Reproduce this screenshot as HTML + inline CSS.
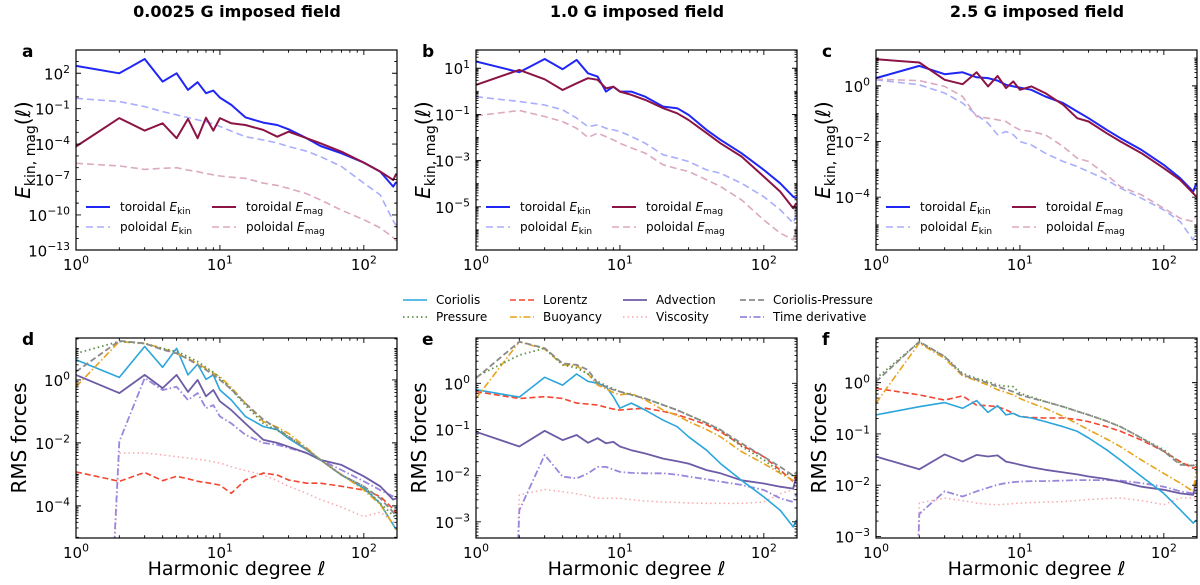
<!DOCTYPE html>
<html><head><meta charset="utf-8"><style>
html,body{margin:0;background:#fff;overflow:hidden;width:1200px;height:585px}
svg{display:block;font-family:"DejaVu Sans","Liberation Sans",sans-serif}
</style></head><body>
<svg id="fig" width="1200" height="585" viewBox="0 0 1200 585" xmlns="http://www.w3.org/2000/svg">
<text x="237" y="17" text-anchor="middle" font-weight="bold" font-size="16">0.0025 G imposed field</text>
<text x="637" y="17" text-anchor="middle" font-weight="bold" font-size="16">1.0 G imposed field</text>
<text x="1037" y="17" text-anchor="middle" font-weight="bold" font-size="16">2.5 G imposed field</text>
</svg>
<script>
// Harmonic degrees shared by all series
const degrees = [1,2,3,4,5,6,7,8,9,10,12,15,20,25,30,40,50,70,100,130,160,168];
// log10 values, panel a
const aTorKin = [2.62,2.0,3.21,1.29,2.0,0.59,1.24,0.31,0.53,-0.06,-0.68,-1.73,-2.18,-2.38,-2.75,-3.5,-4.16,-4.78,-5.57,-6.33,-7.6,-7.2];
const aPolKin = [-0.12,-0.4,-0.82,-1.25,-1.53,-1.75,-1.95,-2.1,-2.3,-2.5,-2.9,-3.37,-3.65,-3.9,-4.2,-4.6,-5.06,-5.9,-7.3,-8.3,-10.5,-10.9];
const aTorMag = [-4.2,-1.8,-2.86,-2.24,-3.5,-1.87,-3.5,-1.76,-2.86,-1.8,-2.24,-2.38,-2.8,-3.37,-2.95,-3.5,-3.93,-4.64,-5.57,-6.33,-7.04,-6.5];
const aPolMag = [-5.63,-5.85,-6.14,-6.05,-6.0,-6.2,-6.33,-6.5,-6.6,-6.7,-6.8,-6.9,-7.3,-7.5,-7.75,-8.2,-8.73,-9.6,-10.4,-11.1,-11.9,-12.2];
// panel b
const bTorKin = [1.29,0.83,1.4,0.96,1.36,0.78,0.64,-0.01,0.2,-0.01,-0.01,-0.23,-0.66,-0.73,-1.02,-1.67,-2.1,-2.68,-3.4,-3.98,-4.56,-4.63];
const bTorMag = [0.28,0.93,0.52,0.06,0.35,0.57,0.5,0.13,0.2,-0.01,-0.15,-0.37,-0.73,-0.95,-1.24,-1.81,-2.25,-2.82,-3.69,-4.34,-5.06,-4.84];
const bPolKin = [-0.23,-0.44,-0.59,-0.8,-1.16,-1.53,-1.45,-1.6,-1.67,-1.74,-1.95,-2.25,-2.75,-2.9,-3.04,-3.4,-3.55,-3.98,-4.56,-5.13,-5.7,-5.35];
const bPolMag = [-1.06,-0.83,-1.09,-1.31,-1.6,-2.0,-1.81,-1.96,-2.1,-2.25,-2.45,-2.68,-3.18,-3.35,-3.47,-3.83,-4.12,-4.7,-5.57,-6.14,-6.43,-5.85];
// panel c
const cTorKin = [0.28,0.72,0.42,0.49,0.31,0.28,0.19,0.04,-0.02,-0.06,-0.14,-0.38,-0.62,-0.92,-1.16,-1.58,-1.88,-2.3,-2.84,-3.32,-3.8,-3.5];
const cTorMag = [0.96,0.84,0.22,0.06,0.49,-0.02,0.36,-0.08,0.16,-0.14,-0.02,-0.26,-0.68,-1.16,-1.28,-1.7,-2.0,-2.42,-2.96,-3.38,-3.86,-3.98];
const cPolKin = [0.22,0.04,-0.26,-0.62,-1.04,-1.34,-1.76,-1.64,-1.76,-2.0,-2.12,-2.42,-2.72,-2.9,-3.08,-3.38,-3.68,-4.04,-4.46,-4.88,-5.54,-5.18];
const cPolMag = [0.24,0.19,-0.02,-0.38,-1.1,-1.16,-1.22,-1.28,-1.46,-1.58,-1.64,-1.76,-2.18,-2.6,-2.72,-3.2,-3.62,-3.92,-4.4,-4.76,-4.88,-4.64];
// panel d forces
const dCor = [0.64,0.08,1.06,0.4,1.0,0.16,0.5,0.02,0.16,-0.32,-0.64,-1.16,-1.48,-1.58,-1.86,-2.22,-2.54,-3.02,-3.44,-3.92,-4.6,-4.76];
const dPres = [0.84,1.22,1.16,1.0,0.9,0.74,0.58,0.4,0.24,0.06,-0.3,-0.8,-1.38,-1.6,-1.8,-2.2,-2.54,-3.02,-3.38,-3.92,-4.3,-4.44];
const dLor = [-2.92,-3.22,-2.94,-3.2,-3.06,-3.14,-3.22,-3.26,-3.3,-3.34,-3.6,-3.18,-2.96,-3.02,-3.18,-3.28,-3.28,-3.38,-3.5,-3.7,-4.1,-4.24];
const dBuo = [-0.22,1.22,1.16,1.0,0.84,0.68,0.52,0.36,0.22,0.1,-0.24,-0.74,-1.32,-1.5,-1.7,-2.16,-2.54,-3.0,-3.5,-3.96,-4.6,-4.76];
const dAdv = [0.16,-0.42,0.16,-0.26,0.16,-0.38,0,-0.52,-0.32,-0.68,-0.96,-1.38,-1.9,-2.0,-2.12,-2.32,-2.54,-2.7,-3.06,-3.38,-3.8,-3.76];
const dVisc = [-30,-2.32,-2.32,-2.38,-2.44,-2.48,-2.52,-2.56,-2.6,-2.64,-2.76,-2.88,-3.02,-3.2,-3.38,-3.6,-3.8,-4.04,-4.34,-4.2,-4.5,-4.6];
const dCP = [0.26,1.24,1.16,0.96,0.84,0.66,0.48,0.32,0.16,0,-0.3,-0.74,-1.26,-1.54,-1.8,-2.2,-2.54,-3.02,-3.38,-3.76,-4.2,-4.34];
const dTD = [-30,-1.96,0.06,-0.32,-0.22,-0.64,-0.42,-0.9,-0.8,-1.16,-1.38,-1.74,-2.0,-2.06,-2.16,-2.32,-2.54,-2.86,-3.22,-3.5,-3.7,-3.76];
// panel e
const eCor = [-0.14,-0.3,0.13,-0.04,0.2,0.04,0,-0.07,-0.29,-0.54,-0.43,-0.58,-0.8,-0.94,-1.16,-1.45,-1.74,-2.1,-2.46,-2.75,-3.11,-2.96];
const ePres = [0.14,0.61,0.76,0.4,0.33,0.2,0.04,-0.05,-0.12,-0.18,-0.25,-0.33,-0.47,-0.58,-0.69,-0.86,-1.01,-1.37,-1.66,-1.92,-2.0,-1.95];
const eLor = [-0.18,-0.33,-0.29,-0.33,-0.43,-0.45,-0.47,-0.52,-0.56,-0.58,-0.56,-0.54,-0.61,-0.68,-0.76,-0.9,-1.05,-1.34,-1.59,-1.88,-2.13,-1.99];
const eBuo = [-0.33,0.9,0.74,0.4,0.38,0.2,-0.04,-0.12,-0.2,-0.25,-0.22,-0.36,-0.58,-0.7,-0.83,-1.0,-1.16,-1.48,-1.74,-1.95,-2.1,-1.92];
const eAdv = [-1.05,-1.37,-1.03,-1.23,-1.12,-1.29,-1.19,-1.3,-1.27,-1.37,-1.45,-1.52,-1.63,-1.69,-1.74,-1.88,-1.95,-2.1,-2.17,-2.24,-2.28,-2.02];
const eVisc = [-30,-2.42,-2.3,-2.35,-2.39,-2.44,-2.49,-2.49,-2.49,-2.49,-2.52,-2.55,-2.57,-2.58,-2.59,-2.6,-2.6,-2.6,-2.57,-2.39,-2.3,-2.24];
const eCP = [0.11,0.9,0.76,0.43,0.4,0.29,0,-0.08,-0.14,-0.18,-0.25,-0.33,-0.47,-0.58,-0.69,-0.86,-1.01,-1.3,-1.59,-1.81,-2.0,-1.92];
const eTD = [-30,-2.75,-1.55,-2.02,-2.06,-1.95,-1.81,-1.81,-1.87,-1.92,-1.94,-1.95,-1.95,-1.98,-2.02,-2.08,-2.13,-2.2,-2.31,-2.49,-2.57,-2.39];
// panel f
const fCor = [-0.63,-0.47,-0.39,-0.5,-0.35,-0.58,-0.45,-0.63,-0.6,-0.66,-0.69,-0.76,-0.86,-0.95,-1.08,-1.31,-1.51,-1.83,-2.16,-2.48,-2.74,-2.68];
const fPres = [0.08,0.79,0.51,0.18,0.08,0.02,-0.05,-0.07,-0.08,-0.21,-0.28,-0.37,-0.47,-0.56,-0.63,-0.75,-0.86,-1.08,-1.31,-1.57,-1.62,-1.6];
const fLor = [-0.11,-0.24,-0.34,-0.26,-0.44,-0.45,-0.47,-0.53,-0.6,-0.66,-0.68,-0.69,-0.69,-0.72,-0.76,-0.86,-0.95,-1.12,-1.34,-1.54,-1.67,-1.64];
const fBuo = [-0.4,0.77,0.47,0.13,0.04,-0.05,-0.14,-0.19,-0.24,-0.31,-0.4,-0.5,-0.66,-0.8,-0.92,-1.1,-1.25,-1.51,-1.77,-1.96,-2.12,-1.73];
const fAdv = [-1.44,-1.69,-1.4,-1.54,-1.41,-1.44,-1.42,-1.54,-1.57,-1.6,-1.65,-1.7,-1.75,-1.79,-1.83,-1.88,-1.93,-2.03,-2.09,-2.16,-2.19,-1.9];
const fVisc = [-30,-2.35,-2.25,-2.3,-2.35,-2.37,-2.38,-2.37,-2.36,-2.35,-2.34,-2.33,-2.32,-2.3,-2.28,-2.26,-2.25,-2.3,-2.38,-2.25,-2.25,-2.25];
const fCP = [0.02,0.8,0.51,0.15,0.06,-0.01,-0.08,-0.13,-0.18,-0.24,-0.3,-0.37,-0.47,-0.56,-0.63,-0.75,-0.86,-1.08,-1.34,-1.6,-1.62,-1.57];
const fTD = [-30,-2.56,-2.12,-2.22,-2.12,-2.05,-1.99,-1.96,-1.94,-1.93,-1.92,-1.92,-1.91,-1.9,-1.9,-1.9,-1.91,-1.96,-2.03,-2.12,-2.16,-2.09];
// tick exponents
const xTickExps = [0,1,2];
const aYTicks = [2,-1,-4,-7,-10,-13];
const bYTicks = [1,-1,-3,-5];
const cYTicks = [0,-2,-4];
const dYTicks = [0,-2,-4];
const eYTicks = [0,-1,-2,-3];
const fYTicks = [0,-1,-2,-3];

const NS='http://www.w3.org/2000/svg';
const svg=document.getElementById('fig');
function mk(tag,attrs,parent){const e=document.createElementNS(NS,tag);for(const k in attrs)e.setAttribute(k,attrs[k]);(parent||svg).appendChild(e);return e;}

const S={
 torKin:{c:'#1f26f5',d:'',w:2},polKin:{c:'#a9aefc',d:'7,4',w:1.6},
 torMag:{c:'#8c1445',d:'',w:2},polMag:{c:'#dba9c0',d:'7,4',w:1.6},
 cor:{c:'#2ba5dc',d:'',w:1.6},pres:{c:'#5f8f45',d:'1.5,3',w:1.8},
 lor:{c:'#f4452f',d:'6,3',w:1.6},buo:{c:'#e8a31c',d:'7,2.5,1.5,2.5',w:1.6},
 adv:{c:'#6e5ba6',d:'',w:1.8},visc:{c:'#f8a9ad',d:'1.5,3',w:1.5},
 cp:{c:'#8a8a8a',d:'6,3',w:1.8},td:{c:'#9a86dc',d:'7,2.5,1.5,2.5',w:1.8}
};

const panels=[
 {id:'a',x0:76,y0:50,x1:397,y1:250,ylo:-12.97,yhi:3.97,ticks:aYTicks,top:true,
  series:[['polKin',aPolKin],['polMag',aPolMag],['torKin',aTorKin],['torMag',aTorMag]]},
 {id:'b',x0:476,y0:50,x1:797,y1:250,ylo:-6.87,yhi:1.79,ticks:bYTicks,top:true,
  series:[['polKin',bPolKin],['polMag',bPolMag],['torKin',bTorKin],['torMag',bTorMag]]},
 {id:'c',x0:876,y0:50,x1:1197,y1:250,ylo:-5.9,yhi:1.29,ticks:cYTicks,top:true,
  series:[['polKin',cPolKin],['polMag',cPolMag],['torKin',cTorKin],['torMag',cTorMag]]},
 {id:'d',x0:76,y0:338,x1:397,y1:538,ylo:-5.02,yhi:1.33,ticks:dYTicks,
  series:[['visc',dVisc],['lor',dLor],['td',dTD],['adv',dAdv],['cor',dCor],['buo',dBuo],['pres',dPres],['cp',dCP]]},
 {id:'e',x0:476,y0:338,x1:797,y1:538,ylo:-3.35,yhi:0.98,ticks:eYTicks,
  series:[['visc',eVisc],['lor',eLor],['td',eTD],['adv',eAdv],['cor',eCor],['buo',eBuo],['pres',ePres],['cp',eCP]]},
 {id:'f',x0:876,y0:338,x1:1197,y1:538,ylo:-3.03,yhi:0.87,ticks:fYTicks,
  series:[['visc',fVisc],['lor',fLor],['td',fTD],['adv',fAdv],['cor',fCor],['buo',fBuo],['pres',fPres],['cp',fCP]]}
];
const XMAX=Math.log10(170);

function pow10(g,x,y,e,anchor,fs,name){
 const t=mk('text',{x:x,y:y,'text-anchor':anchor,'font-size':fs},g);
 
 
 t.appendChild(document.createTextNode('10'));
 const s=mk('tspan',{dy:-fs*0.42,'font-size':fs*0.72},t);
 s.textContent=(e<0?'\u2212':'')+Math.abs(e);
}

panels.forEach(p=>{
 const g=mk('g',{});
 
 
 const X=l=>p.x0+(Math.log10(l)/XMAX)*(p.x1-p.x0);
 const Y=v=>p.y1-(v-p.ylo)/(p.yhi-p.ylo)*(p.y1-p.y0);
 const cp=mk('clipPath',{id:'clip'+p.id},g);
 mk('rect',{x:p.x0,y:p.y0,width:p.x1-p.x0,height:p.y1-p.y0},cp);
 const sg=mk('g',{'clip-path':'url(#clip'+p.id+')'},g);
 p.series.forEach(([k,vals])=>{
  const st=S[k];
  const d=degrees.map((l,i)=>(i?'L':'M')+X(l).toFixed(1)+','+Y(vals[i]).toFixed(1)).join('');
  const path=mk('path',{d:d,fill:'none',stroke:st.c,'stroke-width':st.w,'stroke-dasharray':st.d,'stroke-linejoin':'round'},sg);
  
  
 });
 const tk=[];
 for(let dec=0;dec<3;dec++)for(let m=1;m<10;m++){const l=m*Math.pow(10,dec);if(l>170)break;const x=X(l);const L=m==1?5:2.8;
  tk.push(`M${x},${p.y1}v${-L}M${x},${p.y0}v${L}`);}
 for(let e=Math.floor(p.ylo);e<=Math.floor(p.yhi);e++){
  const y=Y(e);
  if(y>=p.y0&&y<=p.y1){const major=p.ticks.includes(e);const L=major?5:2.8;
   tk.push(`M${p.x0},${y}h${L}M${p.x1},${y}h${-L}`);}
  if(p.id!=='a'){for(let m=2;m<10;m++){const yy=Y(e+Math.log10(m));if(yy>p.y0&&yy<p.y1)tk.push(`M${p.x0},${yy}h2.5M${p.x1},${yy}h-2.5`);}}
 }
 mk('path',{d:tk.join(''),stroke:'#000','stroke-width':0.9,fill:'none'},g);
 const frame=mk('rect',{x:p.x0,y:p.y0,width:p.x1-p.x0,height:p.y1-p.y0,fill:'none',stroke:'#000','stroke-width':1.2},g);
 
 
 xTickExps.forEach(e=>pow10(g,X(Math.pow(10,e)),p.y1+20,e,'middle',15,'x-tick-'+p.id+'-'+e));
 p.ticks.forEach(e=>pow10(g,p.x0-6,Y(e)+6,e,'end',15,'y-tick-'+p.id+'-'+e));
 const lt=mk('text',{x:p.x0-54,y:p.y0+7,'font-size':17,'font-weight':'bold'},g);
 
 
 lt.textContent=p.id;
 if(p.top){
  const ylab=mk('text',{transform:`translate(${p.x0-46},${(p.y0+p.y1)/2}) rotate(-90)`,'text-anchor':'middle','font-size':20},g);
  
  
  ylab.innerHTML='<tspan font-style="italic">E</tspan><tspan font-size="14" dy="5">kin, mag</tspan><tspan dy="-5">(</tspan><tspan font-style="italic">ℓ</tspan>)';
  const items=[['torKin','toroidal ','kin',0,0],['polKin','poloidal ','kin',0,1],['torMag','toroidal ','mag',1,0],['polMag','poloidal ','mag',1,1]];
  items.forEach(([k,t,sub,col,row])=>{
   const lx=p.x0+10+col*126, ly=211+row*20;
   const st=S[k];
   const ln=mk('line',{x1:lx,x2:lx+24,y1:ly-4,y2:ly-4,stroke:st.c,'stroke-width':st.w,'stroke-dasharray':st.d},g);
   
   
   const tx=mk('text',{x:lx+34,y:ly,'font-size':12},g);
   
   
   tx.innerHTML=t+'<tspan font-style="italic">E</tspan><tspan font-size="9" dy="3">'+sub+'</tspan>';
  });
 } else {
  const ylab=mk('text',{transform:`translate(${p.x0-50},${(p.y0+p.y1)/2}) rotate(-90)`,'text-anchor':'middle','font-size':20},g);
  
  
  ylab.textContent='RMS forces';
  const xlab=mk('text',{x:(p.x0+p.x1)/2,y:575,'text-anchor':'middle','font-size':19},g);
  
  
  xlab.innerHTML='Harmonic degree <tspan font-style="italic">ℓ</tspan>';
 }
});
const legendItems=[['cor','Coriolis',403,0],['pres','Pressure',403,1],['lor','Lorentz',510,0],['buo','Buoyancy',510,1],
 ['adv','Advection',623,0],['visc','Viscosity',623,1],['cp','Coriolis-Pressure',740,0],['td','Time derivative',740,1]];
legendItems.forEach(([k,label,x,row])=>{
 const y=304+row*17;const st=S[k];
 const ln=mk('line',{x1:x,x2:x+24,y1:y-4,y2:y-4,stroke:st.c,'stroke-width':st.w,'stroke-dasharray':st.d});
 
 
 const t=mk('text',{x:x+33,y:y,'font-size':12});
 
 
 t.textContent=label;
});
</script>
</body></html>
